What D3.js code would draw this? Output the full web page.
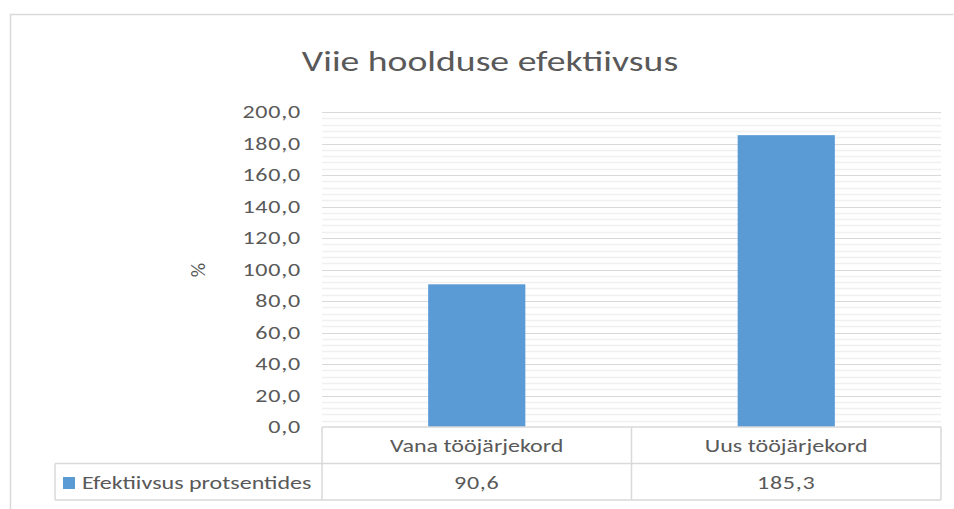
<!DOCTYPE html>
<html>
<head>
<meta charset="utf-8">
<script src="https://cdn.jsdelivr.net/npm/d3@7"></script>
<style>
  body { margin: 0; background: #fff; }
  text { font-family: Calibri, Carlito, Lato, "Open Sans", sans-serif; fill: #595959; }
</style>
</head>
<body>
<script>
var w = 954;
var h = 509;

// data
var categories = ["Vana tööjärjekord", "Uus tööjärjekord"];
var seriesName = "Efektiivsus protsentides";
var values = [90.6, 185.3];
var yTicks = [0, 20, 40, 60, 80, 100, 120, 140, 160, 180, 200];

var plot = { left: 322, right: 941, top: 112, bottom: 427 };
var rowH = 36.5;
var legendLeft = 55;
var gridColor = "#d9d9d9";
var minorColor = "#f0f0f0";
var fs = 18.5;      // label font size
var sx = 1.3;       // reference text is wide, stretch horizontally

var svg = d3.select("body")
    .append("svg")
    .attr("width", w)
    .attr("height", h);

// helper: put a horizontally stretched text at x,y
function label(g, x0, y0, str, anchor, size){
    return g.append("text")
        .attr("transform", "translate(" + x0 + "," + y0 + ") scale(" + sx + ",1)")
        .attr("text-anchor", anchor)
        .attr("font-size", size)
        .text(str);
}

// chart frame
svg.append("path")
    .attr("d", "M10.5," + h + "V14.5H953.5")
    .attr("fill", "none")
    .attr("stroke", gridColor)
    .attr("stroke-width", 1.5);

var x = d3.scaleBand()
    .domain(categories)
    .range([plot.left, plot.right])
    .paddingInner(0.686)
    .paddingOuter(0.343);

var y = d3.scaleLinear()
    .domain([0, 200])
    .range([plot.bottom, plot.top]);

var fmt = function(d){ return d3.format(".1f")(d).replace(".", ","); };

// minor gridlines every 4
var minor = d3.range(0, 201, 4).filter(function(d){ return d % 20 != 0; });
svg.append("g").selectAll("line")
    .data(minor)
    .enter()
    .append("line")
    .attr("x1", plot.left).attr("x2", plot.right)
    .attr("y1", function(d){ return Math.round(y(d)) + 0.5; })
    .attr("y2", function(d){ return Math.round(y(d)) + 0.5; })
    .attr("stroke", minorColor)
    .attr("stroke-width", 1.5);

// major gridlines
svg.append("g").selectAll("line")
    .data(yTicks.slice(1))
    .enter()
    .append("line")
    .attr("x1", plot.left).attr("x2", plot.right)
    .attr("y1", function(d){ return Math.round(y(d)) + 0.5; })
    .attr("y2", function(d){ return Math.round(y(d)) + 0.5; })
    .attr("stroke", gridColor)
    .attr("stroke-width", 1.2);

// y axis labels
var yAxis = d3.axisLeft(y)
    .tickValues(yTicks)
    .tickSize(0)
    .tickPadding(21)
    .tickFormat(fmt);

var yg = svg.append("g")
    .attr("transform", "translate(" + plot.left + ",0)")
    .call(yAxis);
yg.select(".domain").remove();
yg.selectAll("text")
    .attr("font-size", fs)
    .attr("fill", "#595959")
    .attr("letter-spacing", 0.6)
    .attr("x", -21 / sx)
    .attr("transform", "scale(" + sx + ",1)");

// axis title
svg.append("text")
    .attr("transform", "translate(205,270) rotate(-90)")
    .attr("text-anchor", "middle")
    .attr("font-size", 20)
    .text("%");

// bars
svg.append("g").selectAll("rect")
    .data(values)
    .enter()
    .append("rect")
    .attr("x", function(d, i){ return x(categories[i]); })
    .attr("width", x.bandwidth())
    .attr("y", function(d){ return y(d); })
    .attr("height", function(d){ return y(0) - y(d); })
    .attr("fill", "#5b9bd5");

// data table
var t = svg.append("g")
    .attr("stroke", gridColor)
    .attr("stroke-width", 1.5);
var row1 = plot.bottom + rowH;
var row2 = row1 + rowH;
t.append("line").attr("x1", plot.left).attr("x2", plot.right).attr("y1", plot.bottom).attr("y2", plot.bottom);
t.append("line").attr("x1", legendLeft).attr("x2", plot.right).attr("y1", row1).attr("y2", row1);
t.append("line").attr("x1", legendLeft).attr("x2", plot.right).attr("y1", row2).attr("y2", row2);
t.append("line").attr("x1", legendLeft).attr("x2", legendLeft).attr("y1", row1).attr("y2", row2);

var step = x.step();
var colEdges = [plot.left].concat(categories.map(function(c){ return x(c) - x.paddingOuter() * step + step; }));
t.selectAll("line.col")
    .data(colEdges)
    .enter()
    .append("line")
    .attr("class", "col")
    .attr("x1", function(d){ return d; }).attr("x2", function(d){ return d; })
    .attr("y1", plot.bottom).attr("y2", row2);

var tg = svg.append("g");
categories.forEach(function(c, i){
    var cx = x(c) + x.bandwidth() / 2;
    label(tg, cx, plot.bottom + rowH / 2 + 7, c, "middle", fs);
    label(tg, cx, row1 + rowH / 2 + 7, fmt(values[i]), "middle", fs).attr("letter-spacing", 0.6);
});

// legend key
svg.append("rect")
    .attr("x", 63).attr("y", 477)
    .attr("width", 12).attr("height", 12)
    .attr("fill", "#5b9bd5");
label(svg, 82, row1 + rowH / 2 + 7, seriesName, "start", fs);

// title
label(svg, 490, 71, "Viie hoolduse efektiivsus", "middle", 29);
</script>
</body>
</html>
